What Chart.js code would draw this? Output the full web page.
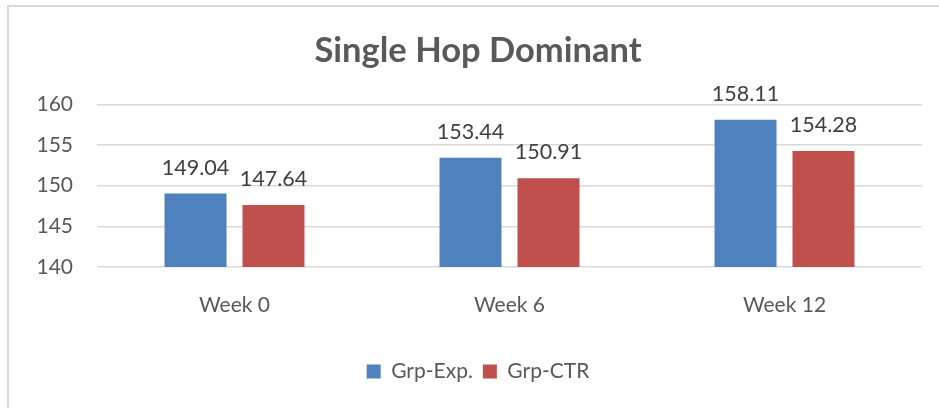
<!DOCTYPE html>
<html>
<head>
<meta charset="utf-8">
<script src="https://cdn.jsdelivr.net/npm/chart.js@4.4.1/dist/chart.umd.min.js"></script>
<style>
  html, body { margin: 0; padding: 0; background: #fff; overflow: hidden; }
  #wrap { position: relative; width: 939px; height: 408px; overflow: hidden; }
  #frame { position: absolute; left: 7px; top: 5px; right: -20px; bottom: -20px;
           border-left: 2px solid #d9d9d9; border-top: 2px solid #d9d9d9; }
  #c { position: absolute; left: 0; top: 0; }
</style>
</head>
<body>
<div id="wrap">
  <div id="frame"></div>
  <canvas id="c" width="956" height="408" style="width:956px;height:408px"></canvas>
</div>
<script>
const titleText = "Single Hop Dominant";
const categories = ["Week 0", "Week 6", "Week 12"];
const seriesNames = ["Grp-Exp.", "Grp-CTR"];
const grpExp = [149.04, 153.44, 158.11];
const grpCtr = [147.64, 150.91, 154.28];
const yMin = 140, yMax = 160, yStep = 5;

const textColor = "#595959";
const labelColor = "#404040";
const fontFamily = "Lato, 'Open Sans', sans-serif";

const valueLabels = {
  id: "valueLabels",
  afterDatasetsDraw(chart) {
    const ctx = chart.ctx;
    ctx.save();
    ctx.font = "21.5px " + fontFamily;
    ctx.fillStyle = labelColor;
    ctx.textAlign = "center";
    ctx.textBaseline = "alphabetic";
    chart.data.datasets.forEach((ds, i) => {
      const meta = chart.getDatasetMeta(i);
      meta.data.forEach((el, j) => {
        ctx.fillText(ds.data[j].toFixed(2), el.x, el.y - 19);
      });
    });
    ctx.restore();
  }
};

new Chart(document.getElementById("c"), {
  type: "bar",
  data: {
    labels: categories,
    datasets: [
      { label: seriesNames[0], data: grpExp, backgroundColor: "#4F81BD", borderWidth: 0 },
      { label: seriesNames[1], data: grpCtr, backgroundColor: "#C0504D", borderWidth: 0 }
    ]
  },
  options: {
    responsive: false,
    animation: false,
    devicePixelRatio: 1,
    categoryPercentage: 0.567,
    barPercentage: 0.795,
    layout: { padding: { left: 0, right: 0, top: 0, bottom: 16 } },
    plugins: {
      title: {
        display: true,
        text: titleText,
        color: textColor,
        font: { family: fontFamily, size: 34.5, weight: "bold" },
        padding: { top: 30, bottom: 33 }
      },
      legend: {
        display: true,
        position: "bottom",
        labels: {
          color: textColor,
          font: { family: fontFamily, size: 21 },
          boxWidth: 14,
          boxHeight: 14,
          padding: 10
        }
      },
      tooltip: { enabled: false }
    },
    scales: {
      x: {
        grid: { display: false },
        border: { display: false },
        ticks: { color: textColor, font: { family: fontFamily, size: 21 }, padding: 18 },
        afterFit(scale) { scale.height = 84; }
      },
      y: {
        min: yMin, max: yMax,
        grid: { color: "#d9d9d9", lineWidth: 1.5, drawTicks: false },
        border: { display: false },
        ticks: { stepSize: yStep, color: textColor, font: { family: fontFamily, size: 21 }, padding: 24 },
        afterFit(scale) { scale.width = 97; }
      },
      yRight: {
        position: "right",
        display: true,
        grid: { display: false, drawTicks: false },
        border: { display: false },
        ticks: { display: false },
        afterFit(scale) { scale.width = 34; }
      }
    }
  },
  plugins: [valueLabels]
});
</script>
</body>
</html>
